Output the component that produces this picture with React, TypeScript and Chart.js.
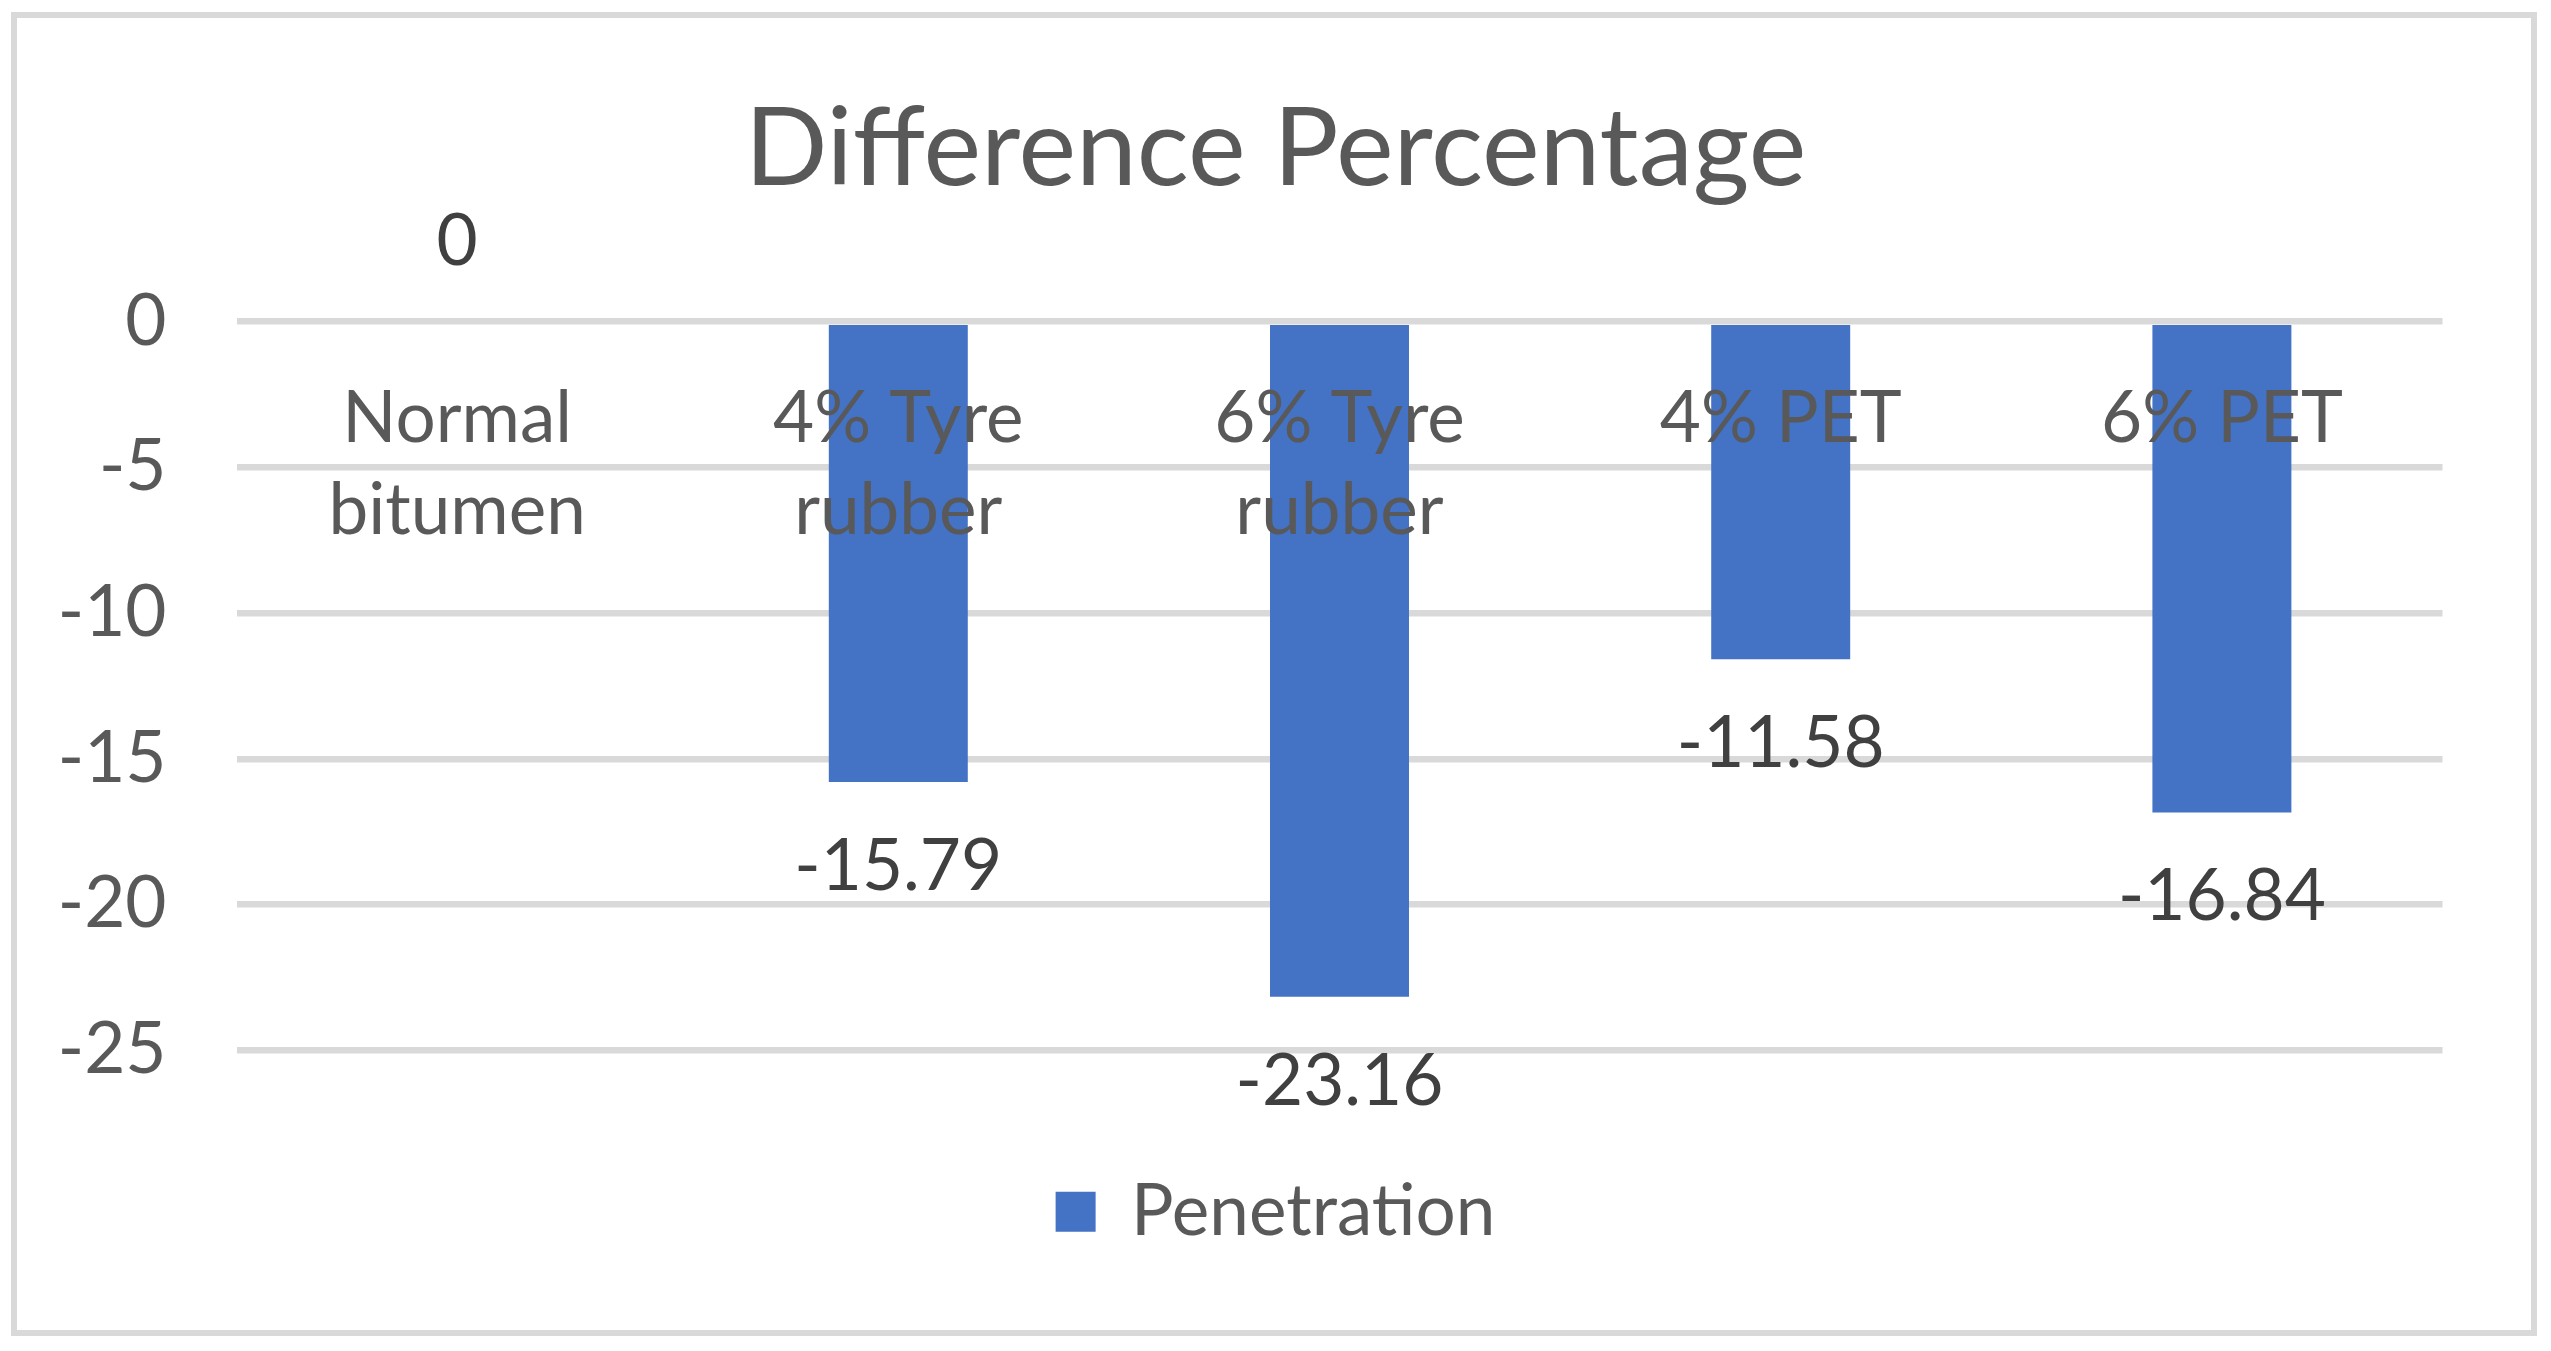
import React, { useEffect, useRef } from "react";
import { Chart, registerables } from "chart.js";

Chart.register(...registerables);

const categories: (string | string[])[] = [
  ["Normal", "bitumen"],
  ["4% Tyre", "rubber"],
  ["6% Tyre", "rubber"],
  "4% PET",
  "6% PET",
];
const penetration: number[] = [0, -15.79, -23.16, -11.58, -16.84];
const seriesName = "Penetration";
const chartTitle = "Difference Percentage";
const yMin = -25;
const yMax = 0;
const yStep = 5;

const FONT = "Lato, 'Open Sans', sans-serif";

const frame = {
  id: "frame",
  beforeDraw(chart: any) {
    const { ctx, width, height } = chart;
    ctx.save();
    ctx.fillStyle = "#ffffff";
    ctx.fillRect(0, 0, width, height);
    ctx.strokeStyle = "#D9D9D9";
    ctx.lineWidth = 6;
    ctx.strokeRect(14, 15, 2520, 1318);
    ctx.restore();
  },
};

const valueLabels = {
  id: "valueLabels",
  afterDatasetsDraw(chart: any) {
    const { ctx } = chart;
    const meta = chart.getDatasetMeta(0);
    const data = chart.data.datasets[0].data as number[];
    ctx.save();
    ctx.font = `71px ${FONT}`;
    ctx.fillStyle = "#404040";
    ctx.textAlign = "center";
    ctx.textBaseline = "middle";
    meta.data.forEach((bar: any, i: number) => {
      const v = data[i];
      const y = v < 0 ? bar.y + 85 : bar.y - 80;
      ctx.fillText(String(v), bar.x, y);
    });
    ctx.restore();
  },
};

export default function App() {
  const ref = useRef<HTMLCanvasElement | null>(null);

  useEffect(() => {
    if (!ref.current) return;
    const chart = new Chart(ref.current, {
      type: "bar",
      data: {
        labels: categories,
        datasets: [
          {
            label: seriesName,
            data: penetration,
            backgroundColor: "#4472C4",
            borderWidth: 0,
            categoryPercentage: 1,
            barPercentage: 0.315,
          },
        ],
      },
      options: {
        responsive: false,
        maintainAspectRatio: false,
        animation: false,
        layout: { padding: { left: 0, right: 0, top: 0, bottom: 93.7 } },
        plugins: {
          title: {
            display: true,
            text: chartTitle,
            color: "#595959",
            font: { family: FONT, size: 109, weight: "normal", lineHeight: 1.2 },
            padding: { top: 84.6, bottom: 106.3 },
          },
          legend: {
            display: true,
            position: "bottom",
            labels: {
              color: "#595959",
              font: { family: FONT, size: 71 },
              boxWidth: 40,
              boxHeight: 40,
              padding: 126,
            },
          },
          tooltip: { enabled: false },
        },
        scales: {
          x: {
            position: { y: 0 } as any,
            grid: { display: false },
            border: { display: false },
            ticks: {
              z: 1,
              color: "#595959",
              font: { family: FONT, size: 71, lineHeight: 1.3 },
              padding: 43,
              maxRotation: 0,
              autoSkip: false,
            },
          },
          y: {
            position: "left",
            min: yMin,
            max: yMax,
            grid: { color: "#D9D9D9", lineWidth: 6.5, drawTicks: false },
            border: { display: false },
            ticks: {
              stepSize: yStep,
              color: "#595959",
              font: { family: FONT, size: 71 },
              padding: 70,
            },
            afterFit(scale: any) {
              scale.width = 236.5;
            },
          },
          yRight: {
            position: "right",
            min: yMin,
            max: yMax,
            grid: { display: false },
            border: { display: false },
            ticks: { display: false },
            afterFit(scale: any) {
              scale.width = 108.5;
            },
          },
        },
      },
      plugins: [frame, valueLabels],
    });
    return () => chart.destroy();
  }, []);

  return (
    <div style={{ position: "fixed", left: 0, top: 0, width: 2551, height: 1351, background: "#fff" }}>
      <canvas ref={ref} width={2551} height={1351} style={{ display: "block" }} />
    </div>
  );
}
